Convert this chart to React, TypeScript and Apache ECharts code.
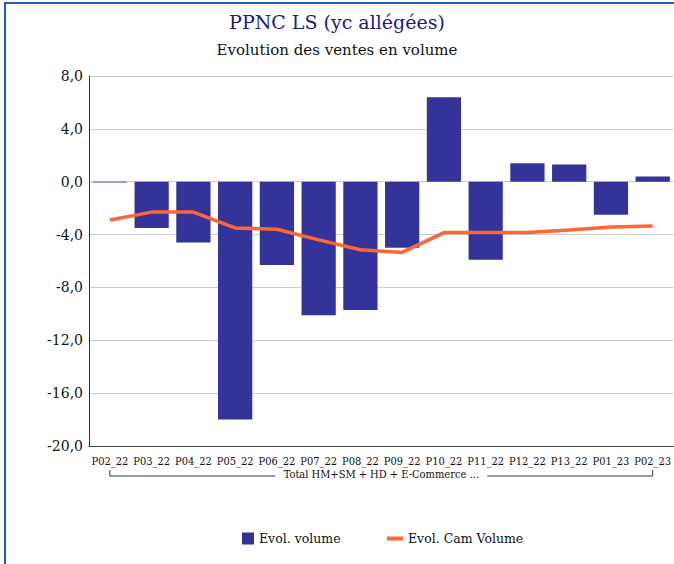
import React, { useEffect, useRef } from "react";
import * as echarts from "echarts";

const categories = ["P02_22", "P03_22", "P04_22", "P05_22", "P06_22", "P07_22", "P08_22", "P09_22", "P10_22", "P11_22", "P12_22", "P13_22", "P01_23", "P02_23"];
const evolVolume = [-0.05, -3.5, -4.6, -18.0, -6.3, -10.1, -9.7, -5.0, 6.4, -5.9, 1.4, 1.3, -2.5, 0.4];
const evolCamVolume = [-2.9, -2.3, -2.3, -3.5, -3.6, -4.4, -5.15, -5.35, -3.85, -3.85, -3.85, -3.65, -3.43, -3.36];
const groupLabel = "Total HM+SM + HD + E-Commerce ...";
const yMin = -20;
const yMax = 8;
const yInterval = 4;

const SERIF = "'DejaVu Serif', serif";
const SERIF_COND = "'DejaVu Serif Condensed', 'DejaVu Serif', serif";

export default function App() {
  const ref = useRef<HTMLDivElement>(null);
  useEffect(() => {
    if (!ref.current) return;
    const chart = echarts.init(ref.current, undefined, { renderer: "svg" });
    chart.setOption({
      animation: false,
      backgroundColor: "#ffffff",
      title: [
        {
          text: "PPNC LS (yc allégées)",
          left: "center",
          top: 7,
          textStyle: { fontFamily: SERIF, fontSize: 19, fontWeight: "normal", color: "#1a1a8a" },
        },
        {
          text: "Evolution des ventes en volume",
          left: "center",
          top: 37,
          textStyle: { fontFamily: SERIF, fontSize: 15, fontWeight: "normal", color: "#111111" },
        },
      ],
      legend: [
        {
          data: ["Evol. volume"],
          left: 237,
          top: 527,
          itemWidth: 12,
          itemHeight: 12,
          icon: "rect",
          textStyle: { fontFamily: SERIF, fontSize: 12.5, color: "#111111" },
        },
        {
          data: ["Evol. Cam Volume"],
          left: 382,
          top: 527,
          itemWidth: 16,
          itemHeight: 4,
          icon: "rect",
          textStyle: { fontFamily: SERIF, fontSize: 12.5, color: "#111111" },
        },
      ],
      grid: { left: 89, right: -2, top: 76, bottom: 118, containLabel: false },
      xAxis: {
        type: "category",
        data: categories,
        boundaryGap: true,
        axisLine: { onZero: false, lineStyle: { color: "#444444", width: 1 } },
        axisTick: { show: false },
        axisLabel: {
          interval: 0,
          margin: 10,
          fontFamily: SERIF_COND,
          fontSize: 11,
          color: "#111111",
        },
      },
      yAxis: {
        type: "value",
        min: yMin,
        max: yMax,
        interval: yInterval,
        axisLine: { show: true, lineStyle: { color: "#333333", width: 1 } },
        axisTick: { show: false },
        splitLine: { lineStyle: { color: "#cccccc", width: 1 } },
        axisLabel: {
          margin: 6,
          fontFamily: SERIF,
          fontSize: 14,
          color: "#111111",
          formatter: (v: number) => v.toFixed(1).replace(".", ","),
        },
      },
      series: [
        {
          name: "Evol. volume",
          type: "bar",
          data: evolVolume,
          barCategoryGap: "18%",
          itemStyle: { color: "#333399" },
        },
        {
          name: "Evol. Cam Volume",
          type: "line",
          data: evolCamVolume,
          showSymbol: false,
          symbol: "none",
          lineStyle: { color: "#ff6633", width: 3.5 },
          itemStyle: { color: "#ff6633" },
        },
      ],
    });

    const first = chart.convertToPixel({ xAxisIndex: 0 }, categories[0]) as number;
    const last = chart.convertToPixel({ xAxisIndex: 0 }, categories[categories.length - 1]) as number;
    const mid = (first + last) / 2;
    const by = 476;
    const textHalf = 106;
    chart.setOption({
      graphic: [
        {
          type: "rect",
          shape: { x: 5, y: 3, width: 720, height: 620 },
          style: { fill: "none", stroke: "#1f5fb4", lineWidth: 2 },
          silent: true,
        },
        {
          type: "polyline",
          shape: { points: [[first, by - 6], [first, by], [mid - textHalf, by]] },
          style: { stroke: "#333333", lineWidth: 1, fill: "none" },
        },
        {
          type: "polyline",
          shape: { points: [[mid + textHalf, by], [last, by], [last, by - 6]] },
          style: { stroke: "#333333", lineWidth: 1, fill: "none" },
        },
        {
          type: "text",
          x: mid,
          y: by - 2,
          style: {
            text: groupLabel,
            fontFamily: SERIF_COND,
            fontSize: 11,
            fill: "#111111",
            align: "center",
            verticalAlign: "middle",
          },
        },
      ],
    });

    return () => chart.dispose();
  }, []);
  return (
    <div
      ref={ref}
      style={{ position: "fixed", left: 0, top: 0, width: 674, height: 564, background: "#fff" }}
    />
  );
}
